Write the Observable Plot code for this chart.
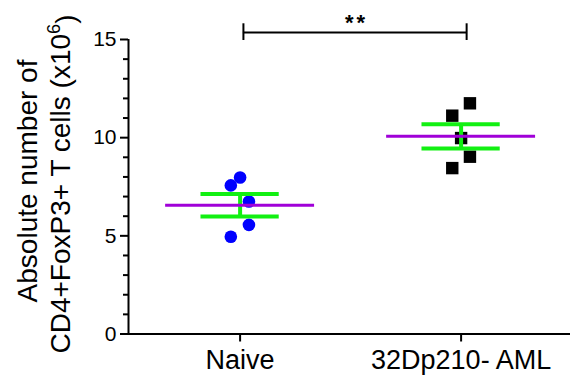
<!DOCTYPE html>
<html>
<head>
<meta charset="utf-8">
<script src="https://cdn.jsdelivr.net/npm/d3@7"></script>
<script src="https://cdn.jsdelivr.net/npm/@observablehq/plot@0.6"></script>
<style>
  html, body { margin: 0; padding: 0; background: #fff; }
  svg { display: block; }
</style>
</head>
<body>
<div id="chart"></div>
<script>
// ---- data ----
const groups = ["Naive", "32Dp210- AML"];
const naiveValues = [7.97, 7.57, 6.75, 5.56, 4.95];
const naiveJitter = [0, -0.042, 0.04, 0.04, -0.042];
const amlValues = [11.75, 11.12, 9.98, 9.03, 8.45];
const amlJitter = [0.04, -0.04, 0, 0.04, -0.04];
const yMajorTicks = [0, 5, 10, 15];
const yMinorTicks = [1, 2, 3, 4, 6, 7, 8, 9, 11, 12, 13, 14];
const significanceLabel = "**";
const bracketX = [0.015, 1.025];
const bracketY = 15.36;
const bracketTickY = [14.95, 15.8];
const yTitleLines = ["Absolute number of", "CD4+FoxP3+ T cells (x10", "6", ")"];

// ---- derived tables ----
const naivePts = naiveValues.map((v, i) => ({g: 0, x: 0 + naiveJitter[i], y: v}));
const amlPts = amlValues.map((v, i) => ({g: 1, x: 1 + amlJitter[i], y: v}));
const summary = [naiveValues, amlValues].map((vals, g) => {
  const m = d3.mean(vals);
  const sem = d3.deviation(vals) / Math.sqrt(vals.length);
  return {g, mean: m, lo: m - sem, hi: m + sem};
});
const meanHalf = 0.337, semHalf = 0.177;
const xDomain = [-0.505, 1.495];
const font = "Liberation Sans, Arial, Helvetica, sans-serif";

const plot = Plot.plot({
  width: 570,
  height: 377,
  marginLeft: 128,
  marginRight: 0,
  marginTop: 39,
  marginBottom: 43.5,
  style: {fontFamily: font, background: "white", color: "black"},
  x: {domain: xDomain},
  y: {domain: [0, 15]},
  marks: [
    // points
    Plot.dot(naivePts, {x: "x", y: "y", r: 6.3, fill: "#0000ff", symbol: "circle"}),
    Plot.dot(amlPts, {x: "x", y: "y", r: 7, fill: "black", symbol: "square"}),
    // SEM bars
    Plot.ruleX(summary, {x: "g", y1: "lo", y2: "hi", stroke: "#12f012", strokeWidth: 4}),
    Plot.ruleY(summary, {y: "hi", x1: d => d.g - semHalf, x2: d => d.g + semHalf, stroke: "#12f012", strokeWidth: 4}),
    Plot.ruleY(summary, {y: "lo", x1: d => d.g - semHalf, x2: d => d.g + semHalf, stroke: "#12f012", strokeWidth: 4}),
    // mean
    Plot.ruleY(summary, {y: "mean", x1: d => d.g - meanHalf, x2: d => d.g + meanHalf, stroke: "#a000d8", strokeWidth: 3}),
    // axes lines
    Plot.ruleY([0], {stroke: "black", strokeWidth: 2}),
    Plot.ruleX([xDomain[0]], {y1: 0, y2: 15, stroke: "black", strokeWidth: 2}),
    // y axis
    Plot.axisY({ticks: yMajorTicks, tickSize: 8, tickPadding: 4, fontSize: 21, strokeWidth: 2, label: null}),
    Plot.axisY({ticks: yMinorTicks, tickSize: 5, text: null, strokeWidth: 2, label: null}),
    // x axis
    Plot.axisX({ticks: [0, 1], tickFormat: i => groups[i], tickSize: 8, tickPadding: 8, fontSize: 27, strokeWidth: 2, label: null}),
    // significance bracket
    Plot.ruleY([bracketY], {x1: bracketX[0], x2: bracketX[1], stroke: "black", strokeWidth: 2}),
    Plot.ruleX(bracketX, {x: d => d, y1: bracketTickY[0], y2: bracketTickY[1], stroke: "black", strokeWidth: 2}),
    Plot.text([significanceLabel], {x: (bracketX[0] + bracketX[1]) / 2, y: 16.3, text: d => d, lineAnchor: "top", fontSize: 22, fontWeight: "bold", fill: "black", className: "sig"})
  ]
});

document.getElementById("chart").appendChild(plot);

const svg = d3.select(plot);
svg.selectAll(".sig text").attr("letter-spacing", "3px").attr("dx", "1.5px");

// y-axis title (two lines, rotated)
svg.append("text")
  .attr("transform", "translate(37,181) rotate(-90)")
  .attr("text-anchor", "middle")
  .attr("font-family", font)
  .attr("font-size", 28)
  .attr("fill", "black")
  .text(yTitleLines[0]);
const t2 = svg.append("text")
  .attr("transform", "translate(70,184) rotate(-90)")
  .attr("text-anchor", "middle")
  .attr("font-family", font)
  .attr("font-size", 28)
  .attr("fill", "black");
t2.append("tspan").text(yTitleLines[1]);
t2.append("tspan").attr("dy", "-0.55em").attr("font-size", "0.65em").text(yTitleLines[2]);
t2.append("tspan").attr("dy", "0.55em").text(yTitleLines[3]);
</script>
</body>
</html>
